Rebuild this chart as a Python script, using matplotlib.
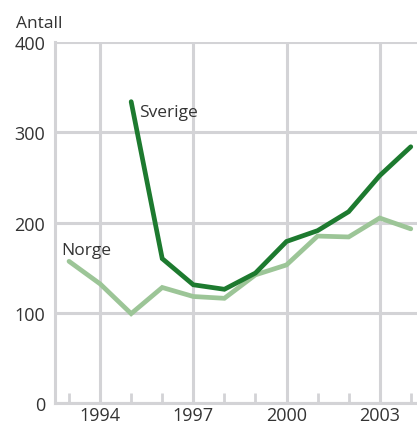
import matplotlib
matplotlib.use("Agg")
import matplotlib.pyplot as plt
from matplotlib.ticker import MultipleLocator

plt.rcParams['font.family'] = ['Open Sans', 'DejaVu Sans']

# data
norge_years = [1993, 1994, 1995, 1996, 1997, 1998, 1999, 2000, 2001, 2002, 2003, 2004]
norge = [157, 132, 99, 128, 118, 116, 142, 153, 185, 184, 205, 193]
sverige_years = [1995, 1996, 1997, 1998, 1999, 2000, 2001, 2002, 2003, 2004]
sverige = [334, 160, 131, 126, 144, 179, 191, 212, 252, 284]
xticks = [1994, 1997, 2000, 2003]
yticks = [0, 100, 200, 300, 400]

grid_c = '#d3d3d6'
text_c = '#333333'

fig = plt.figure(figsize=(4.17, 4.27), dpi=100)
ax = fig.add_axes([0.132, 0.054, 0.868, 0.845])

ax.plot(norge_years, norge, color='#9cc597', lw=3.4, solid_capstyle='round', solid_joinstyle='miter', zorder=3)
ax.plot(sverige_years, sverige, color='#1d7a2f', lw=3.4, solid_capstyle='round', solid_joinstyle='miter', zorder=4)

ax.set_xlim(1992.55, 2004.2)
ax.set_ylim(0, 400)
ax.set_xticks(xticks)
ax.set_yticks(yticks)
ax.xaxis.set_minor_locator(MultipleLocator(1))
ax.grid(True, which='major', color=grid_c, lw=2.2, zorder=1)
ax.tick_params(which='major', length=0, labelsize=13, labelcolor=text_c)
ax.tick_params(axis='x', which='major', pad=2)
ax.tick_params(axis='x', which='minor', direction='in', length=7, width=2, color=grid_c)
ax.tick_params(axis='y', which='major', pad=7)

for s in ['top', 'right']:
    ax.spines[s].set_visible(False)
for s in ['left', 'bottom']:
    ax.spines[s].set_color(grid_c)
    ax.spines[s].set_linewidth(2.2)

ax.text(1995.25, 322, 'Sverige', fontsize=12.5, color=text_c, va='center', ha='left')
ax.text(1992.75, 169, 'Norge', fontsize=12.5, color=text_c, va='center', ha='left')
fig.text(0.038, 0.943, 'Antall', fontsize=12.5, color=text_c, va='center', ha='left')

fig.savefig('out.png', dpi=100)
